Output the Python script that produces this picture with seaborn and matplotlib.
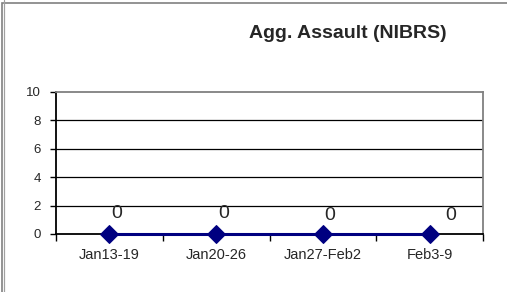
import matplotlib
matplotlib.use("Agg")
import matplotlib.pyplot as plt
import matplotlib.patches as patches
import seaborn as sns
import pandas as pd

# chart data
weeks = ["Jan13-19", "Jan20-26", "Jan27-Feb2", "Feb3-9"]
counts = [0, 0, 0, 0]
title = "Agg. Assault (NIBRS)"

# where each value label sits relative to its point (pixels, as in the original)
label_offsets = [(7, 21), (8, 21), (7, 18), (21, 18)]

data = pd.DataFrame({"pos": range(len(weeks)), "week": weeks, "count": counts})

sns.set_style("white")
plt.rcParams["font.family"] = ["Liberation Sans", "DejaVu Sans"]

fig = plt.figure(figsize=(5.07, 2.92), dpi=100)
ax = fig.add_axes([56 / 507, 1 - 234 / 292, 427 / 507, 142 / 292])

# grey frame around the whole chart (right and bottom are cut off)
fig.patches.append(patches.Rectangle((1.5 / 507, -0.2), 1.2, 1.2 - 2.5 / 292,
                                     transform=fig.transFigure, fill=False,
                                     edgecolor="#808080", linewidth=1.2))
fig.patches.append(patches.Rectangle((3.5 / 507, -0.2), 0.001, 1.2,
                                     transform=fig.transFigure, fill=False,
                                     edgecolor="#a0a0a0", linewidth=0.8))

sns.lineplot(data=data, x="pos", y="count", ax=ax, color="#000080",
             marker="D", markersize=9, markeredgecolor="#000080", linewidth=2.2,
             clip_on=False, zorder=5)

px = 72 / 100
for (i, row), (dx, dy) in zip(data.iterrows(), label_offsets):
    ax.annotate(str(row["count"]), (row["pos"], row["count"]),
                xytext=(dx * px, dy * px), textcoords="offset points",
                ha="center", va="center", fontsize=14)

ax.set_xlim(-0.5, len(weeks) - 0.5)
ax.set_ylim(0, 10)
ax.set_yticks(range(0, 11, 2))
ax.set_xticks([i - 0.5 for i in range(len(weeks) + 1)])
ax.set_xticklabels([])
ax.set_xticks(range(len(weeks)), minor=True)
ax.set_xticklabels(weeks, minor=True)
ax.tick_params(axis="x", which="major", direction="out", length=5, width=1,
               color="black", bottom=True)
ax.tick_params(axis="x", which="minor", length=0, labelsize=10.5, pad=10)
ax.tick_params(axis="y", direction="out", length=4, width=1, color="black",
               left=True, labelsize=9.5, pad=7)

for v in range(2, 10, 2):
    ax.axhline(v, color="black", linewidth=0.9, zorder=1)

ax.spines["left"].set_color("black")
ax.spines["bottom"].set_color("black")
ax.spines["top"].set_color("#808080")
ax.spines["right"].set_color("#808080")
for s in ax.spines.values():
    s.set_linewidth(1.3)

ax.set_xlabel("")
ax.set_ylabel("")

fig.text(348 / 507, 1 - 34 / 292, title, ha="center", va="center",
         fontsize=14, fontweight="bold")

fig.savefig("out.png", dpi=100)
